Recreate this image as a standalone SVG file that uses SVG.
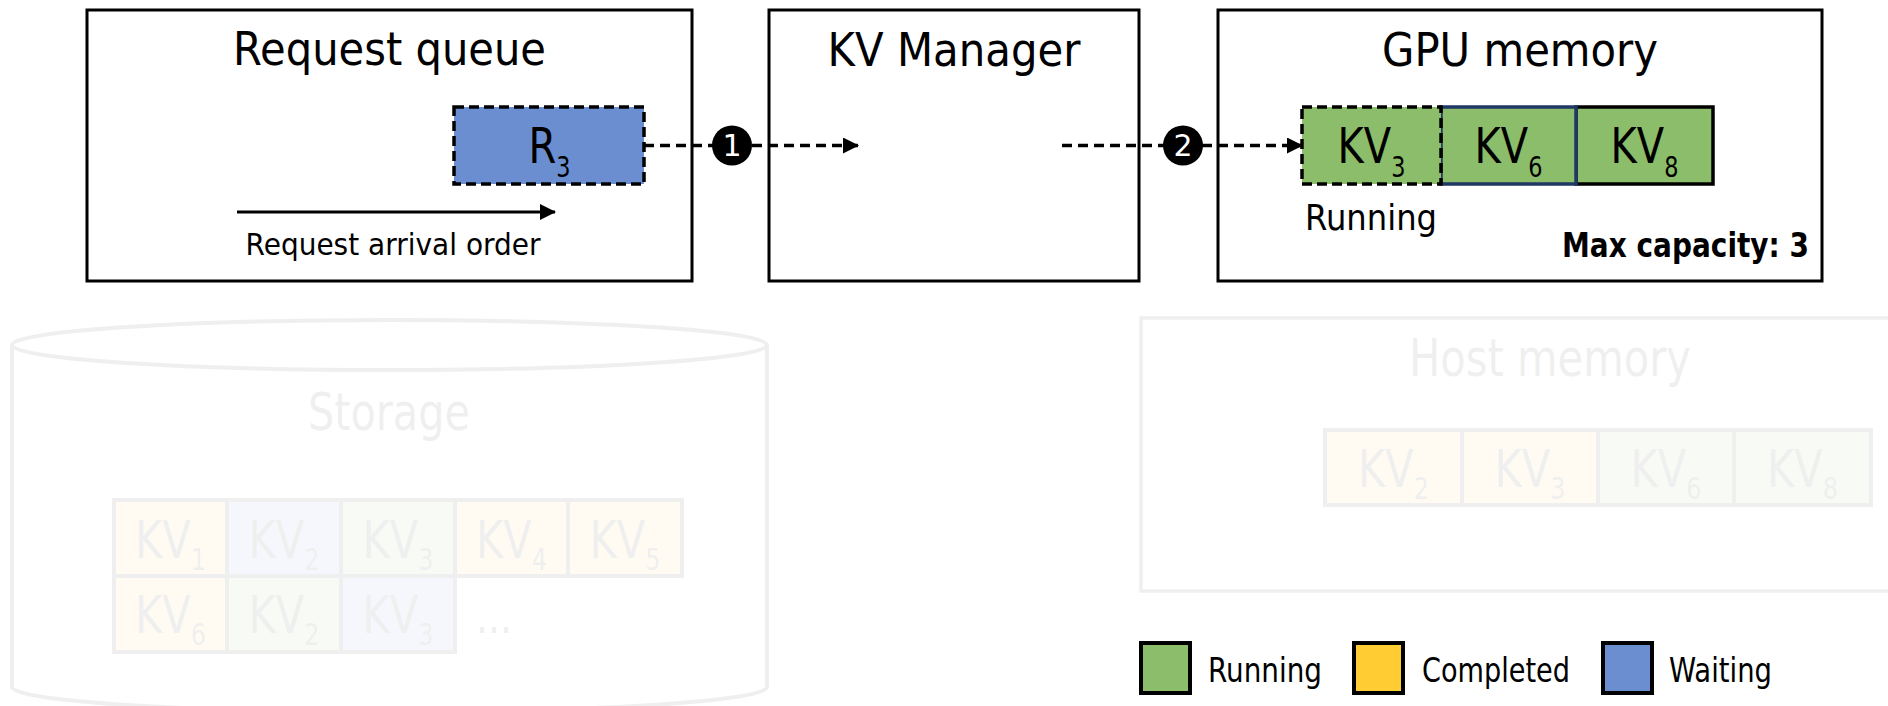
<svg xmlns="http://www.w3.org/2000/svg" width="1888" height="706" viewBox="0 0 1888 706">
<style>
  text { font-family: "DejaVu Sans", "Liberation Sans", sans-serif; fill: #000; }
  .box { fill: #fff; stroke: #000; stroke-width: 3; }
  .title { font-size: 47px; text-anchor: middle; }
  .kv { font-size: 50px; text-anchor: middle; }
  .kvf { font-size: 52px; text-anchor: middle; }
  .green { fill: #8CBD6A; }
  .yellow { fill: #FFCC33; }
  .blue { fill: #6A8ECF; }
  .cell { stroke: #000; stroke-width: 3.5; }
  .fcell { stroke: #000; stroke-width: 4; }
  .dash { fill: none; stroke: #000; stroke-width: 3.5; stroke-dasharray: 10 6; }
  .solid { fill: none; stroke: #000; stroke-width: 3; }
  .step { fill: #000; }
  .stepnum { fill: #fff; font-size: 30px; text-anchor: middle; }
  .leg { font-size: 34px; }
  .legbox { stroke: #000; stroke-width: 4; }
</style>
<defs>
  <marker id="ah" markerUnits="userSpaceOnUse" markerWidth="16" markerHeight="18" refX="15" refY="8" orient="auto">
    <path d="M0,0 L16,8 L0,16 Z" fill="#000"/>
  </marker>
</defs>
<rect x="0" y="0" width="1888" height="706" fill="#fff"/>

<!-- Faded background elements -->
<g id="storage" opacity="0.06">
  <path d="M12,345 L12,687 A377.5,25 0 0 0 767,687 L767,345" fill="#fff" stroke="#000" stroke-width="4"/>
  <ellipse cx="389.5" cy="345" rx="377.5" ry="25" fill="#fff" stroke="#000" stroke-width="4"/>
  <text x="389" y="430" class="kvf" textLength="162" lengthAdjust="spacingAndGlyphs">Storage</text>
  <rect x="114" y="500" width="113" height="76" class="fcell yellow"/>
  <rect x="227" y="500" width="114" height="76" class="fcell blue"/>
  <rect x="341" y="500" width="114" height="76" class="fcell green"/>
  <rect x="455" y="500" width="113" height="76" class="fcell yellow"/>
  <rect x="568" y="500" width="114" height="76" class="fcell yellow"/>
  <rect x="114" y="576" width="113" height="76" class="fcell yellow"/>
  <rect x="227" y="576" width="114" height="76" class="fcell green"/>
  <rect x="341" y="576" width="114" height="76" class="fcell blue"/>
  <g transform="translate(170.5,558) scale(0.8,1)"><text class="kvf">KV<tspan dy="12" font-size="30">1</tspan></text></g>
  <g transform="translate(284,558) scale(0.8,1)"><text class="kvf">KV<tspan dy="12" font-size="30">2</tspan></text></g>
  <g transform="translate(398,558) scale(0.8,1)"><text class="kvf">KV<tspan dy="12" font-size="30">3</tspan></text></g>
  <g transform="translate(511.5,558) scale(0.8,1)"><text class="kvf">KV<tspan dy="12" font-size="30">4</tspan></text></g>
  <g transform="translate(625,558) scale(0.8,1)"><text class="kvf">KV<tspan dy="12" font-size="30">5</tspan></text></g>
  <g transform="translate(170.5,633) scale(0.8,1)"><text class="kvf">KV<tspan dy="12" font-size="30">6</tspan></text></g>
  <g transform="translate(284,633) scale(0.8,1)"><text class="kvf">KV<tspan dy="12" font-size="30">2</tspan></text></g>
  <g transform="translate(398,633) scale(0.8,1)"><text class="kvf">KV<tspan dy="12" font-size="30">3</tspan></text></g>
  <text x="476" y="633" font-size="48" textLength="36" lengthAdjust="spacingAndGlyphs">...</text>
</g>

<g id="host-memory" opacity="0.06">
  <rect x="1141" y="318" width="760" height="273" fill="#fff" stroke="#000" stroke-width="3.5"/>
  <text x="1550" y="376" class="kvf" textLength="282" lengthAdjust="spacingAndGlyphs">Host memory</text>
  <rect x="1325" y="430" width="137" height="75" class="fcell yellow"/>
  <rect x="1462" y="430" width="136" height="75" class="fcell yellow"/>
  <rect x="1598" y="430" width="136" height="75" class="fcell green"/>
  <rect x="1734" y="430" width="137" height="75" class="fcell green"/>
  <g transform="translate(1393.5,487) scale(0.8,1)"><text class="kvf">KV<tspan dy="12" font-size="30">2</tspan></text></g>
  <g transform="translate(1530,487) scale(0.8,1)"><text class="kvf">KV<tspan dy="12" font-size="30">3</tspan></text></g>
  <g transform="translate(1666,487) scale(0.8,1)"><text class="kvf">KV<tspan dy="12" font-size="30">6</tspan></text></g>
  <g transform="translate(1802.5,487) scale(0.8,1)"><text class="kvf">KV<tspan dy="12" font-size="30">8</tspan></text></g>
</g>

<!-- Request queue -->
<g id="request-queue">
  <rect x="87" y="10" width="605" height="271" class="box"/>
  <text x="389.5" y="65" class="title" textLength="313" lengthAdjust="spacingAndGlyphs">Request queue</text>
  <rect x="454" y="107" width="190" height="77" class="blue" stroke="#000" stroke-width="3.5" stroke-dasharray="10 5"/>
  <g transform="translate(549.5,163) scale(0.8,1)"><text class="kv">R<tspan dy="14" font-size="28">3</tspan></text></g>
  <line x1="237" y1="212" x2="555" y2="212" class="solid" marker-end="url(#ah)"/>
  <text x="393" y="255" font-size="31" text-anchor="middle" textLength="295" lengthAdjust="spacingAndGlyphs">Request arrival order</text>
</g>

<!-- KV Manager -->
<g id="kv-manager">
  <rect x="769" y="10" width="370" height="271" class="box"/>
  <text x="954" y="66" class="title" textLength="253" lengthAdjust="spacingAndGlyphs">KV Manager</text>
</g>

<!-- GPU memory -->
<g id="gpu-memory">
  <rect x="1218" y="10" width="604" height="271" class="box"/>
  <text x="1520" y="66" class="title" textLength="276" lengthAdjust="spacingAndGlyphs">GPU memory</text>
  <rect x="1576" y="107" width="137" height="77" class="cell green"/>
  <rect x="1441" y="107" width="135" height="77" class="green" stroke="#1F3864" stroke-width="3.5"/>
  <rect x="1302" y="107" width="139" height="77" class="cell green" stroke-dasharray="10 5"/>
  <g transform="translate(1371.5,163) scale(0.8,1)"><text class="kv">KV<tspan dy="14" font-size="28">3</tspan></text></g>
  <g transform="translate(1508.5,163) scale(0.8,1)"><text class="kv">KV<tspan dy="14" font-size="28">6</tspan></text></g>
  <g transform="translate(1644.5,163) scale(0.8,1)"><text class="kv">KV<tspan dy="14" font-size="28">8</tspan></text></g>
  <text x="1305" y="230" font-size="35" textLength="132" lengthAdjust="spacingAndGlyphs">Running</text>
  <text x="1809" y="257" font-size="34" font-weight="bold" text-anchor="end" textLength="247" lengthAdjust="spacingAndGlyphs">Max capacity: 3</text>
</g>

<!-- Connectors -->
<g id="connectors">
  <line x1="644" y1="145.5" x2="713" y2="145.5" class="dash"/>
  <line x1="752" y1="145.5" x2="858" y2="145.5" class="dash" marker-end="url(#ah)"/>
  <circle cx="732" cy="145.5" r="20" class="step"/>
  <text x="732" y="156" class="stepnum">1</text>
  <line x1="1062" y1="145.5" x2="1164" y2="145.5" class="dash"/>
  <line x1="1202" y1="145.5" x2="1302" y2="145.5" class="dash" marker-end="url(#ah)"/>
  <circle cx="1183" cy="145.5" r="20" class="step"/>
  <text x="1183" y="156" class="stepnum">2</text>
</g>

<!-- Legend -->
<g id="legend">
  <rect x="1141" y="643" width="49" height="50" class="legbox green"/>
  <text x="1208" y="682" class="leg" textLength="114" lengthAdjust="spacingAndGlyphs">Running</text>
  <rect x="1354" y="643" width="49" height="50" class="legbox yellow"/>
  <text x="1422" y="682" class="leg" textLength="148" lengthAdjust="spacingAndGlyphs">Completed</text>
  <rect x="1603" y="643" width="49" height="50" class="legbox blue"/>
  <text x="1669" y="682" class="leg" textLength="103" lengthAdjust="spacingAndGlyphs">Waiting</text>
</g>
</svg>
